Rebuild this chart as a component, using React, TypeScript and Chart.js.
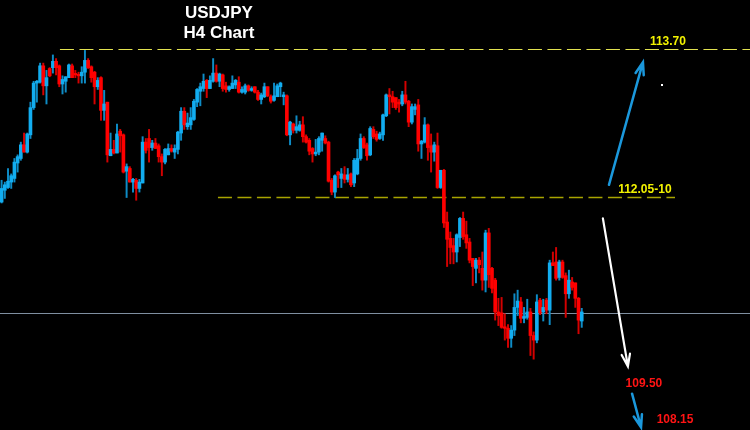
import { useEffect, useRef } from 'react';
import { Chart, registerables } from 'chart.js';

Chart.register(...registerables);

// ---- candle data (USDJPY H4) ----
const opens = [
  112.02, 112.15, 112.18, 112.24, 112.28, 112.45, 112.50, 112.65, 112.57, 112.76,
  113.06, 113.33, 113.34, 113.52, 113.30, 113.49, 113.50, 113.57, 113.52, 113.32,
  113.35, 113.39, 113.52, 113.43, 113.42, 113.41, 113.45, 113.58, 113.51, 113.45,
  113.29, 113.39, 113.03, 113.12, 112.53, 112.60, 112.56, 112.80, 112.76, 112.36,
  112.39, 112.24, 112.26, 112.17, 112.23, 112.68, 112.72, 112.62, 112.67, 112.64,
  112.52, 112.46, 112.54, 112.61, 112.57, 112.60, 112.78, 113.02, 112.85, 112.87,
  112.93, 113.12, 113.24, 113.27, 113.36, 113.27, 113.35, 113.44, 113.35, 113.42,
  113.30, 113.26, 113.27, 113.31, 113.34, 113.23, 113.23, 113.30, 113.25, 113.29,
  113.23, 113.15, 113.18, 113.29, 113.18, 113.14, 113.18, 113.29, 113.18, 113.19,
  112.76, 112.88, 112.81, 112.81, 112.87, 112.74, 112.70, 112.61, 112.55, 112.57,
  112.70, 112.72, 112.68, 112.26, 112.13, 112.35, 112.28, 112.32, 112.27, 112.33,
  112.23, 112.33, 112.50, 112.72, 112.65, 112.54, 112.82, 112.77, 112.72, 112.76,
  112.97, 113.20, 113.18, 113.17, 113.12, 113.10, 113.20, 113.13, 112.90, 113.04,
  113.09, 112.66, 112.68, 112.87, 112.64, 112.57, 112.64, 112.18, 112.37, 111.80,
  111.62, 111.54, 111.47, 111.63, 111.84, 111.66, 111.58, 111.40, 111.29, 111.38,
  111.29, 111.16, 111.68, 111.29, 111.16, 110.81, 110.80, 110.64, 110.63, 110.52,
  110.61, 110.86, 110.92, 110.74, 110.75, 110.81, 110.55, 110.50, 110.94, 110.81,
  110.94, 110.83, 111.35, 111.36, 111.19, 111.36, 111.21, 111.01, 111.14, 111.13,
  110.96, 110.71,
];
const highs = [
  112.26, 112.24, 112.39, 112.33, 112.50, 112.54, 112.68, 112.78, 112.78, 113.12,
  113.35, 113.36, 113.55, 113.55, 113.47, 113.50, 113.64, 113.60, 113.53, 113.41,
  113.40, 113.54, 113.54, 113.47, 113.45, 113.51, 113.69, 113.60, 113.52, 113.46,
  113.39, 113.40, 113.25, 113.12, 112.78, 112.70, 112.88, 112.82, 112.77, 112.44,
  112.41, 112.28, 112.28, 112.27, 112.74, 112.72, 112.82, 112.70, 112.72, 112.66,
  112.55, 112.61, 112.66, 112.65, 112.65, 112.80, 113.06, 113.06, 113.00, 113.06,
  113.15, 113.27, 113.33, 113.43, 113.37, 113.41, 113.60, 113.53, 113.44, 113.43,
  113.34, 113.30, 113.41, 113.37, 113.40, 113.29, 113.32, 113.31, 113.29, 113.29,
  113.25, 113.22, 113.33, 113.29, 113.20, 113.33, 113.32, 113.34, 113.23, 113.20,
  112.91, 112.89, 112.97, 112.91, 112.96, 112.76, 112.72, 112.62, 112.71, 112.74,
  112.78, 112.75, 112.69, 112.28, 112.32, 112.36, 112.39, 112.41, 112.39, 112.34,
  112.50, 112.60, 112.77, 112.74, 112.67, 112.85, 112.85, 112.80, 112.79, 112.99,
  113.21, 113.27, 113.24, 113.17, 113.15, 113.24, 113.35, 113.14, 113.10, 113.10,
  113.15, 112.70, 112.95, 112.88, 112.77, 112.68, 112.78, 112.37, 112.38, 111.91,
  111.69, 111.62, 111.67, 111.85, 111.91, 111.81, 111.62, 111.40, 111.40, 111.41,
  111.47, 111.71, 111.73, 111.30, 111.18, 110.96, 110.97, 110.79, 110.67, 110.66,
  111.01, 111.05, 110.97, 110.86, 110.95, 110.85, 110.59, 111.00, 110.96, 110.95,
  110.96, 111.38, 111.47, 111.52, 111.38, 111.38, 111.24, 111.27, 111.19, 111.13,
  110.97, 110.85,
];
const lows = [
  112.01, 112.06, 112.17, 112.17, 112.24, 112.35, 112.48, 112.57, 112.56, 112.72,
  113.04, 113.12, 113.33, 113.20, 113.10, 113.40, 113.44, 113.42, 113.29, 113.21,
  113.23, 113.39, 113.39, 113.39, 113.33, 113.33, 113.33, 113.49, 113.34, 113.10,
  113.26, 112.92, 112.92, 112.46, 112.53, 112.55, 112.56, 112.57, 112.34, 112.07,
  112.24, 112.13, 112.04, 112.13, 112.23, 112.56, 112.46, 112.59, 112.61, 112.46,
  112.31, 112.44, 112.54, 112.57, 112.50, 112.55, 112.70, 112.82, 112.82, 112.82,
  112.92, 113.07, 113.08, 113.24, 113.17, 113.27, 113.34, 113.34, 113.29, 113.24,
  113.23, 113.24, 113.27, 113.27, 113.22, 113.22, 113.21, 113.24, 113.24, 113.22,
  113.14, 113.10, 113.17, 113.18, 113.11, 113.13, 113.18, 113.18, 113.09, 112.75,
  112.65, 112.78, 112.78, 112.80, 112.68, 112.67, 112.54, 112.46, 112.53, 112.54,
  112.58, 112.66, 112.24, 112.10, 112.07, 112.18, 112.18, 112.23, 112.24, 112.19,
  112.19, 112.32, 112.48, 112.61, 112.48, 112.53, 112.72, 112.69, 112.71, 112.70,
  112.96, 112.99, 113.06, 113.04, 113.01, 113.08, 113.10, 112.85, 112.88, 112.98,
  112.58, 112.50, 112.67, 112.48, 112.35, 112.47, 112.17, 112.17, 111.74, 111.31,
  111.34, 111.34, 111.36, 111.53, 111.61, 111.51, 111.35, 111.10, 111.13, 111.24,
  111.05, 111.03, 111.08, 111.02, 110.72, 110.66, 110.63, 110.50, 110.42, 110.42,
  110.55, 110.77, 110.69, 110.69, 110.73, 110.33, 110.29, 110.47, 110.78, 110.71,
  110.79, 110.67, 111.32, 111.16, 111.16, 111.18, 110.75, 110.96, 111.05, 110.86,
  110.57, 110.64,
];
const closes = [
  112.17, 112.21, 112.25, 112.31, 112.46, 112.52, 112.65, 112.57, 112.77, 113.06,
  113.33, 113.35, 113.52, 113.30, 113.39, 113.41, 113.57, 113.50, 113.32, 113.37,
  113.40, 113.53, 113.39, 113.42, 113.41, 113.45, 113.58, 113.50, 113.39, 113.29,
  113.36, 113.03, 113.10, 112.54, 112.60, 112.56, 112.77, 112.75, 112.35, 112.41,
  112.24, 112.27, 112.17, 112.24, 112.68, 112.59, 112.62, 112.67, 112.61, 112.52,
  112.46, 112.60, 112.61, 112.58, 112.61, 112.79, 113.02, 112.87, 112.89, 112.95,
  113.13, 113.26, 113.29, 113.35, 113.27, 113.36, 113.44, 113.35, 113.43, 113.27,
  113.26, 113.29, 113.33, 113.36, 113.23, 113.26, 113.30, 113.25, 113.27, 113.23,
  113.15, 113.20, 113.29, 113.19, 113.13, 113.19, 113.30, 113.33, 113.20, 112.76,
  112.90, 112.81, 112.85, 112.87, 112.74, 112.68, 112.58, 112.55, 112.57, 112.72,
  112.78, 112.67, 112.25, 112.13, 112.31, 112.32, 112.33, 112.27, 112.32, 112.21,
  112.48, 112.50, 112.72, 112.62, 112.53, 112.83, 112.74, 112.71, 112.77, 112.98,
  113.20, 113.18, 113.12, 113.06, 113.10, 113.20, 113.12, 112.90, 113.07, 113.07,
  112.66, 112.69, 112.87, 112.62, 112.57, 112.65, 112.18, 112.37, 111.79, 111.61,
  111.52, 111.47, 111.66, 111.84, 111.64, 111.57, 111.38, 111.31, 111.38, 111.33,
  111.16, 111.68, 111.22, 111.07, 110.81, 110.77, 110.64, 110.63, 110.52, 110.61,
  110.86, 110.93, 110.74, 110.76, 110.81, 110.55, 110.50, 110.92, 110.80, 110.86,
  110.83, 111.35, 111.32, 111.18, 111.36, 111.19, 111.01, 111.16, 111.08, 110.96,
  110.72, 110.81,
];

// number of bar slots on the time axis (candles + empty space on the right)
const slotCount = 234;
const slotLabels = Array.from({ length: slotCount }, (_, i) => `T${i + 1}`);

// ---- annotations ----
const levelPrices = [113.7, 112.075, 110.8];
const levelFrom = [18.2, 67.5, -0.5];
const levelTo = [233.5, 210.1, 233.5];

const labelTexts = ['113.70', '112.05-10', '109.50', '108.15'];
const labelSlots = [207.9, 200.7, 200.4, 210.1];
const labelPrices = [113.79, 112.16, 110.02, 109.62];

const titleLines = ['USDJPY', 'H4 Chart'];
const titleSlot = 67.8;
const titlePrices = [114.1, 113.88];

const arrowFromSlot = [189.5, 187.6, 196.7];
const arrowFromPrice = [112.21, 111.84, 109.91];
const arrowToSlot = [200.1, 195.4, 199.5];
const arrowToPrice = [113.56, 110.21, 109.54];

const markerSlot = 206.1;
const markerPrice = 113.31;

const BULL = '#12adf0';
const BEAR = '#ff0000';
const BULL_WICK = '#0e8cc6';
const BEAR_WICK = '#d40000';

const levelColors = ['#e2e250', '#a8a400', '#7f8fa0'];
const levelWidths = [1.2, 1.6, 1];
const levelDashes: number[][] = [[14, 5.5], [14, 5.5], []];
const labelColors = ['#f2f200', '#f2f200', '#ff1414', '#ff1414'];
const arrowColors = ['#1b98dc', '#ffffff', '#1b98dc'];
const arrowWidths = [2.5, 2.2, 2.5];

function drawArrow(ctx: CanvasRenderingContext2D, x1: number, y1: number, x2: number, y2: number, color: string, w: number) {
  const ang = Math.atan2(y2 - y1, x2 - x1);
  const head = 13;
  const spread = 0.33;
  ctx.strokeStyle = color;
  ctx.lineWidth = w;
  ctx.lineCap = 'round';
  ctx.setLineDash([]);
  ctx.beginPath();
  ctx.moveTo(x1, y1);
  ctx.lineTo(x2, y2);
  ctx.moveTo(x2 - head * Math.cos(ang - spread), y2 - head * Math.sin(ang - spread));
  ctx.lineTo(x2, y2);
  ctx.lineTo(x2 - head * Math.cos(ang + spread), y2 - head * Math.sin(ang + spread));
  ctx.stroke();
}

const overlayPlugin = {
  id: 'overlay',
  beforeDatasetsDraw(chart: any) {
    const { ctx, scales } = chart;
    const x = scales.x;
    const y = scales.y;
    ctx.save();
    levelPrices.forEach((p, i) => {
      const yy = Math.round(y.getPixelForValue(p)) + 0.5;
      ctx.strokeStyle = levelColors[i];
      ctx.lineWidth = levelWidths[i];
      ctx.setLineDash(levelDashes[i]);
      ctx.beginPath();
      ctx.moveTo(x.getPixelForValue(levelFrom[i]), yy);
      ctx.lineTo(x.getPixelForValue(levelTo[i]), yy);
      ctx.stroke();
    });
    ctx.restore();
  },
  afterDatasetsDraw(chart: any) {
    const { ctx, scales } = chart;
    const x = scales.x;
    const y = scales.y;
    ctx.save();
    arrowFromSlot.forEach((s, i) => {
      drawArrow(
        ctx,
        x.getPixelForValue(s),
        y.getPixelForValue(arrowFromPrice[i]),
        x.getPixelForValue(arrowToSlot[i]),
        y.getPixelForValue(arrowToPrice[i]),
        arrowColors[i],
        arrowWidths[i],
      );
    });
    ctx.fillStyle = '#ffffff';
    ctx.fillRect(Math.round(x.getPixelForValue(markerSlot)) - 1, Math.round(y.getPixelForValue(markerPrice)) - 1, 2, 2);

    ctx.textAlign = 'center';
    ctx.textBaseline = 'middle';
    ctx.font = 'bold 12px "Liberation Sans", Arial, sans-serif';
    labelTexts.forEach((t, i) => {
      ctx.fillStyle = labelColors[i];
      ctx.fillText(t, x.getPixelForValue(labelSlots[i]), y.getPixelForValue(labelPrices[i]));
    });
    ctx.font = 'bold 17px "Liberation Sans", Arial, sans-serif';
    ctx.fillStyle = '#ffffff';
    titleLines.forEach((t, i) => {
      ctx.fillText(t, x.getPixelForValue(titleSlot), y.getPixelForValue(titlePrices[i]));
    });
    ctx.restore();
  },
};

export default function App() {
  const ref = useRef<HTMLCanvasElement | null>(null);

  useEffect(() => {
    if (!ref.current) return;
    const bull = closes.map((c, i) => c >= opens[i]);
    const chart = new Chart(ref.current, {
      type: 'bar',
      data: {
        labels: slotLabels,
        datasets: [
          {
            label: 'body',
            data: opens.map((o, i) => [Math.min(o, closes[i]), Math.max(o, closes[i])]) as any,
            backgroundColor: bull.map((b) => (b ? BULL : BEAR)),
            barThickness: 3,
            minBarLength: 1.5,
            grouped: false,
            order: 0,
            borderWidth: 0,
          } as any,
          {
            label: 'wick',
            data: lows.map((l, i) => [l, highs[i]]) as any,
            backgroundColor: bull.map((b) => (b ? BULL_WICK : BEAR_WICK)),
            barThickness: 1.3,
            grouped: false,
            order: 1,
            borderWidth: 0,
          } as any,
        ],
      },
      options: {
        responsive: false,
        animation: false,
        events: [],
        layout: { padding: 0 },
        plugins: {
          legend: { display: false },
          tooltip: { enabled: false },
          title: { display: false },
        },
        scales: {
          x: { display: false, offset: true, grid: { display: false } },
          y: { display: false, min: 109.51, max: 114.245, grid: { display: false } },
        },
      },
      plugins: [overlayPlugin],
    });
    return () => chart.destroy();
  }, []);

  return (
    <div style={{ position: 'fixed', left: 0, top: 0, width: 750, height: 430, background: '#000' }}>
      <canvas ref={ref} width={750} height={430} style={{ display: 'block', background: '#000' }} />
    </div>
  );
}
